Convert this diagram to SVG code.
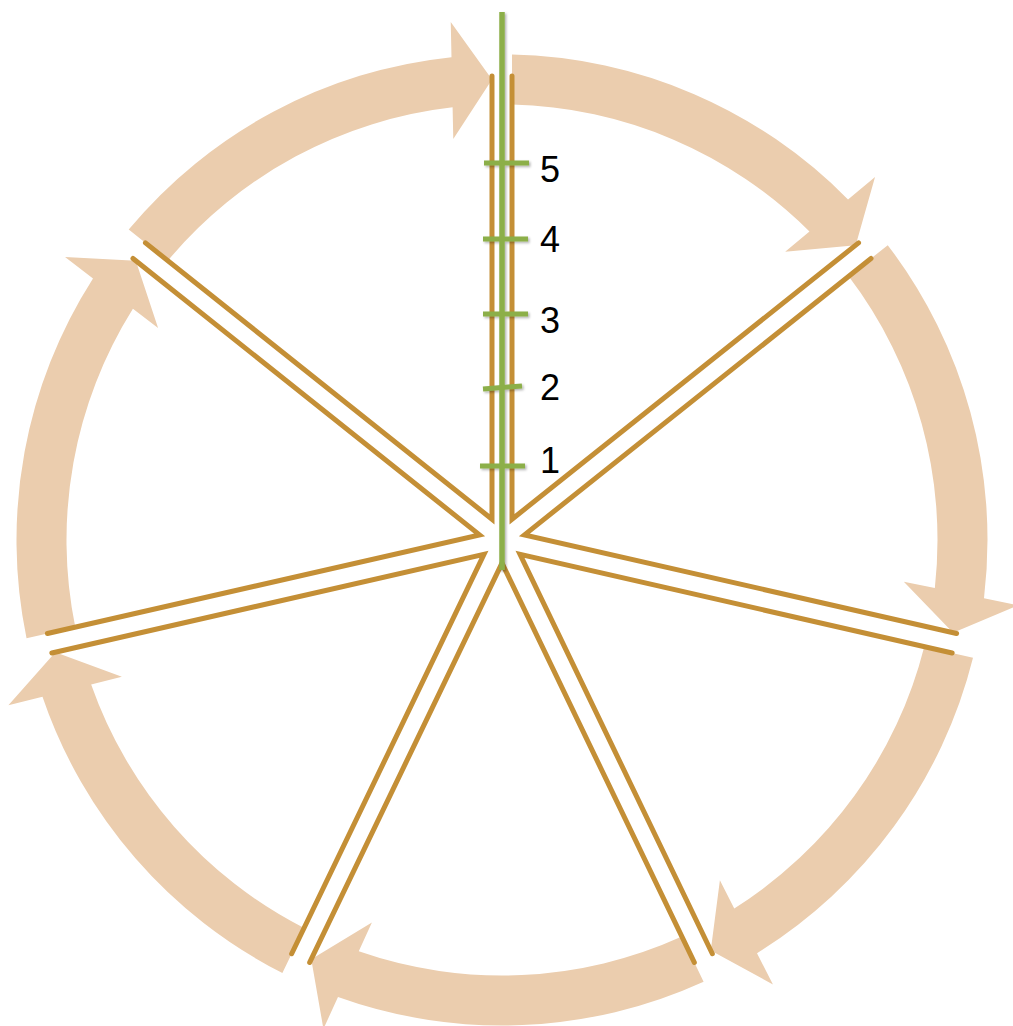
<svg xmlns="http://www.w3.org/2000/svg" width="1013" height="1026" viewBox="0 0 1013 1026">
  <style>
    .arrow { fill: #EBCDAE; stroke: none; }
    .sector { fill: none; stroke: #C48F36; stroke-width: 5; stroke-linecap: round; stroke-linejoin: miter; }
    .green { stroke: #8CAF49; stroke-width: 5.5; fill: none; }
    .tick { stroke: #8CAF49; stroke-width: 5; fill: none; }
    .lbl { font-family: "Liberation Sans", Arial, sans-serif; font-size: 36px; fill: #000; }
  </style>
  <defs>
    <filter id="shadow" x="-50%" y="-5%" width="200%" height="110%">
      <feDropShadow dx="1.5" dy="1.5" stdDeviation="1.2" flood-color="#000" flood-opacity="0.3"/>
    </filter>
  </defs>
  <rect width="1013" height="1026" fill="#fff"/>
  <g id="arrows">
    <g id="arrow1"><path class="arrow" d="M 128.73 229.54 A 485.5 485.5 0 0 1 451.50 57.14 L 450.74 21.99 L 492 79.61 L 453.28 138.97 L 452.59 107.31 A 435.5 435.5 0 0 0 167.83 260.72 Z"/></g>
    <g id="arrow2"><path class="arrow" transform="rotate(51.428571 502 540)" d="M 128.73 229.54 A 485.5 485.5 0 0 1 451.50 57.14 L 450.74 21.99 L 492 79.61 L 453.28 138.97 L 452.59 107.31 A 435.5 435.5 0 0 0 167.83 260.72 Z"/></g>
    <g id="arrow3"><path class="arrow" transform="rotate(102.857143 502 540)" d="M 128.73 229.54 A 485.5 485.5 0 0 1 451.50 57.14 L 450.74 21.99 L 492 79.61 L 453.28 138.97 L 452.59 107.31 A 435.5 435.5 0 0 0 167.83 260.72 Z"/></g>
    <g id="arrow4"><path class="arrow" transform="rotate(154.285714 502 540)" d="M 128.73 229.54 A 485.5 485.5 0 0 1 451.50 57.14 L 450.74 21.99 L 492 79.61 L 453.28 138.97 L 452.59 107.31 A 435.5 435.5 0 0 0 167.83 260.72 Z"/></g>
    <g id="arrow5"><path class="arrow" transform="rotate(205.714286 502 540)" d="M 128.73 229.54 A 485.5 485.5 0 0 1 451.50 57.14 L 450.74 21.99 L 492 79.61 L 453.28 138.97 L 452.59 107.31 A 435.5 435.5 0 0 0 167.83 260.72 Z"/></g>
    <g id="arrow6"><path class="arrow" transform="rotate(257.142857 502 540)" d="M 128.73 229.54 A 485.5 485.5 0 0 1 451.50 57.14 L 450.74 21.99 L 492 79.61 L 453.28 138.97 L 452.59 107.31 A 435.5 435.5 0 0 0 167.83 260.72 Z"/></g>
    <g id="arrow7"><path class="arrow" transform="rotate(308.571429 502 540)" d="M 128.73 229.54 A 485.5 485.5 0 0 1 451.50 57.14 L 450.74 21.99 L 492 79.61 L 453.28 138.97 L 452.59 107.31 A 435.5 435.5 0 0 0 167.83 260.72 Z"/></g>
  </g>
  <g id="sectors">
    <g id="sector1"><path class="sector" d="M 512 76 L 512 519.23 L 858.54 242.88"/></g>
    <g id="sector2"><path class="sector" transform="rotate(51.428571 502 540)" d="M 512 76 L 512 519.23 L 858.54 242.88"/></g>
    <g id="sector3"><path class="sector" transform="rotate(102.857143 502 540)" d="M 512 76 L 512 519.23 L 858.54 242.88"/></g>
    <g id="sector4"><path class="sector" transform="rotate(154.285714 502 540)" d="M 512 76 L 512 519.23 L 858.54 242.88"/></g>
    <g id="sector5"><path class="sector" transform="rotate(205.714286 502 540)" d="M 512 76 L 512 519.23 L 858.54 242.88"/></g>
    <g id="sector6"><path class="sector" transform="rotate(257.142857 502 540)" d="M 512 76 L 512 519.23 L 858.54 242.88"/></g>
    <g id="sector7"><path class="sector" transform="rotate(308.571429 502 540)" d="M 512 76 L 512 519.23 L 858.54 242.88"/></g>
  </g>
  <g id="scale" filter="url(#shadow)">
    <line class="green" x1="502" y1="12" x2="502" y2="570"/>
    <line class="tick" x1="484" y1="163" x2="529" y2="163"/>
    <line class="tick" x1="483" y1="239" x2="528" y2="239"/>
    <line class="tick" x1="483" y1="314" x2="528" y2="314"/>
    <line class="tick" x1="483" y1="389" x2="522" y2="386"/>
    <line class="tick" x1="480" y1="466" x2="525" y2="466"/>
  </g>
  <g id="labels">
    <text class="lbl" x="540" y="182">5</text>
    <text class="lbl" x="540" y="252">4</text>
    <text class="lbl" x="540" y="333">3</text>
    <text class="lbl" x="540" y="400">2</text>
    <text class="lbl" x="540" y="473">1</text>
  </g>
</svg>
